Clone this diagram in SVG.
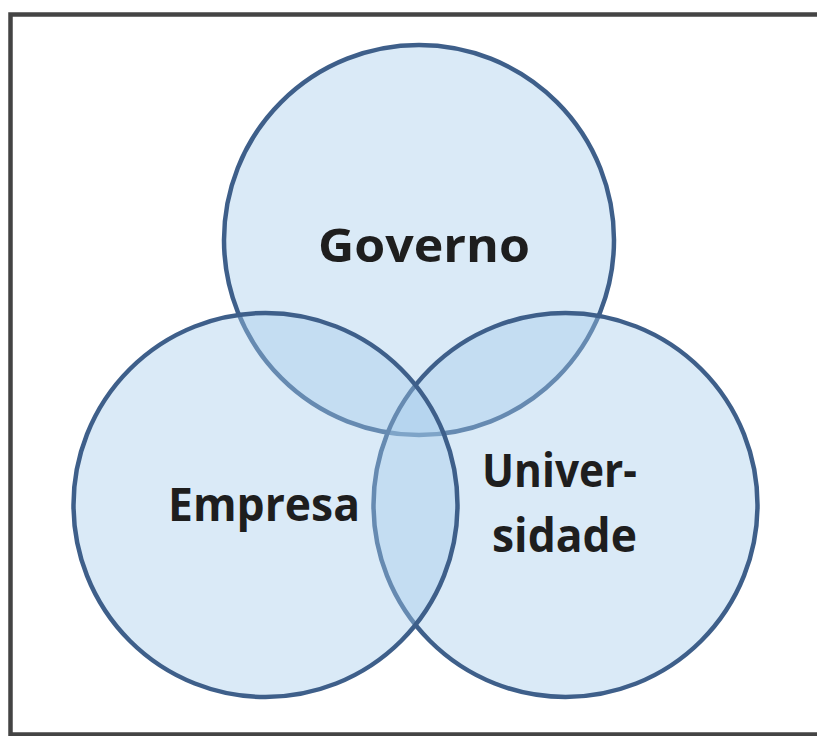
<svg xmlns="http://www.w3.org/2000/svg" width="817" height="736" viewBox="0 0 817 736">
  <style>
    .c { fill: #a3cbeb; fill-opacity: 0.4; stroke: #3e5f8a; stroke-width: 4.5; }
    .t { font-family: "Open Sans", "Liberation Sans", sans-serif; font-weight: 700; font-size: 47px; fill: #1e1e1e; text-anchor: middle; }
  </style>
  <rect x="0" y="0" width="817" height="736" fill="#ffffff"/>
  <rect id="frame" x="10.5" y="14.5" width="830" height="720" fill="none" stroke="#444444" stroke-width="4.5"/>
  <g id="governo">
    <circle class="c" cx="419" cy="240" r="195"/>
    <text class="t" x="424" y="262" font-size="50" textLength="212" lengthAdjust="spacingAndGlyphs">Governo</text>
  </g>
  <g id="universidade">
    <circle class="c" cx="565.5" cy="505" r="192"/>
    <text class="t" x="559.5" y="487" textLength="155" lengthAdjust="spacingAndGlyphs">Univer-</text>
    <text class="t" x="564.5" y="552" textLength="145" lengthAdjust="spacingAndGlyphs">sidade</text>
  </g>
  <g id="empresa">
    <circle class="c" cx="265.5" cy="505" r="192"/>
    <text class="t" x="264" y="521" textLength="192" lengthAdjust="spacingAndGlyphs">Empresa</text>
  </g>
  <g id="connectors"></g>
</svg>
